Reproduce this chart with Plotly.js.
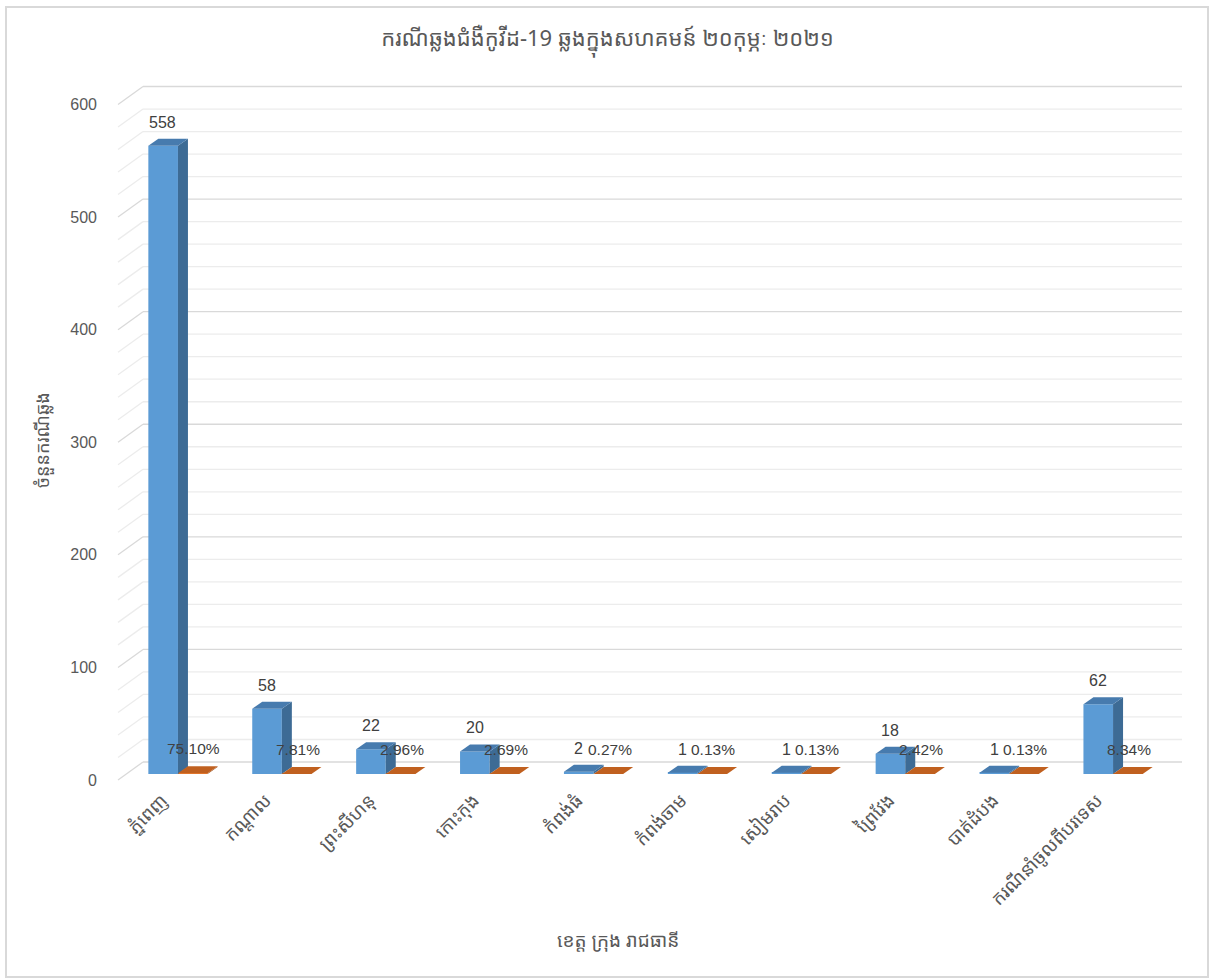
<!DOCTYPE html>
<html>
<head>
<meta charset="utf-8">
<script src="https://cdn.plot.ly/plotly-3.0.1.min.js"></script>
<style>
  html, body { margin: 0; padding: 0; background: #fff; }
  #wrap { position: relative; width: 1215px; height: 978px; }
  #chart { width: 1215px; height: 978px; }
  #frame { position: absolute; left: 5px; top: 6px; width: 1200px; height: 968px;
           border: 2px solid #d9d9d9; pointer-events: none; }
</style>
</head>
<body>
<div id="wrap"><div id="chart"></div><div id="frame"></div></div>
<script>
// Confirmed community cases by province, 20 February 2021
const provinces = ["ភ្នំពេញ", "កណ្ដាល", "ព្រះសីហនុ", "កោះកុង", "កំពង់ធំ",
                   "កំពង់ចាម", "សៀមរាប", "ព្រៃវែង", "បាត់ដំបង", "ករណីនាំចូលពីបរទេស"];
const cases  = [558, 58, 22, 20, 2, 1, 1, 18, 1, 62];
const shares = [0.7510, 0.0781, 0.0296, 0.0269, 0.0027, 0.0013, 0.0013, 0.0242, 0.0013, 0.0834];
const yTicks = [0, 100, 200, 300, 400, 500, 600];

const titleText  = "ករណីឆ្លងជំងឺកូវីដ-19 ឆ្លងក្នុងសហគមន៍ ២០កុម្ភៈ ២០២១";
const xTitleText = "ខេត្ត ក្រុង រាជធានី";
const yTitleText = "ចំនួនករណីឆ្លង";

// ---- geometry of the pseudo-3D box ----
const W = 1215, H = 978;
const M = { l: 126, r: 50, t: 85, b: 195 };
const plotW = W - M.l - M.r, plotH = H - M.t - M.b;
const yRange = [-8, 612];
const kx = plotW / provinces.length;          // px per category
const ky = plotH / (yRange[1] - yRange[0]);   // px per unit
const depthX = 10 / kx, depthY = 7 / ky;      // bar depth offset in data units
const barW = 0.285;
const frontDrop = 6, backRise = 12, wallLeft = -8, wallBack = 17;

const kh = "'Noto Sans Khmer', 'Khmer OS', 'Khmer OS System', 'Noto Sans', 'DejaVu Sans', sans-serif";
const num = "'Liberation Sans', Arial, sans-serif";

const shapes = [];

// back-wall gridlines with the left side-wall diagonals
for (let v = 0; v <= 600; v += 20) {
  const col = (v % 100 === 0) ? "#d9d9d9" : "#ececec";
  const base = { xref: "paper", xsizemode: "pixel", xanchor: 0,
                 yref: "y", ysizemode: "pixel", yanchor: v,
                 layer: "below", line: { color: col, width: 1.3 } };
  shapes.push(Object.assign({ type: "line", x0: wallLeft, x1: wallBack, y0: -frontDrop, y1: backRise }, base));
  shapes.push(Object.assign({ type: "line", x0: wallBack, x1: plotW + wallBack, y0: backRise, y1: backRise }, base));
}

function poly(pts, color) {
  const d = "M" + pts.map(p => p[0] + "," + p[1]).join(" L") + " Z";
  return { type: "path", xref: "x", yref: "y", path: d, fillcolor: color,
           line: { width: 0 }, layer: "above" };
}

cases.forEach((v, i) => {
  // blue column: side and top faces
  shapes.push(poly([[i, 0], [i + depthX, depthY], [i + depthX, v + depthY], [i, v]], "#3d6b95"));
  shapes.push(poly([[i - barW, v], [i, v], [i + depthX, v + depthY], [i - barW + depthX, v + depthY]], "#477bae"));
});
shares.forEach((p, i) => {
  // orange column: side and top faces
  shapes.push(poly([[i + barW, 0], [i + barW + depthX, depthY], [i + barW + depthX, p + depthY], [i + barW, p]], "#9c4d18"));
  shapes.push(poly([[i, p], [i + barW, p], [i + barW + depthX, p + depthY], [i + depthX, p + depthY]], "#c0601f"));
});

const annotations = [];
cases.forEach((v, i) => {
  annotations.push({ x: i, y: v + depthY, xref: "x", yref: "y", text: String(v),
    showarrow: false, xanchor: "center", yanchor: "bottom", xshift: -15, yshift: 6,
    font: { family: num, size: 16, color: "#404040" } });
});
shares.forEach((p, i) => {
  annotations.push({ x: i, y: p + depthY, xref: "x", yref: "y", text: (p * 100).toFixed(2) + "%",
    showarrow: false, xanchor: "center", yanchor: "bottom", xshift: 16, yshift: 7,
    font: { family: num, size: 15.5, color: "#404040" } });
});
annotations.push({ xref: "paper", yref: "paper", x: (618 - M.l) / plotW, y: (H - M.b - 940) / plotH,
  text: xTitleText, showarrow: false, xanchor: "center", yanchor: "middle",
  font: { family: kh, size: 19, color: "#595959" } });
annotations.push({ xref: "paper", yref: "paper", x: (42 - M.l) / plotW, y: (H - M.b - 440) / plotH,
  text: yTitleText, textangle: -90, showarrow: false, xanchor: "center", yanchor: "middle",
  font: { family: kh, size: 18, color: "#595959" } });

const data = [
  { type: "bar", name: "ចំនួនករណី", x: provinces, y: cases, offset: -barW, width: barW,
    marker: { color: "#5b9bd5", line: { width: 0 } }, hoverinfo: "x+y" },
  { type: "bar", name: "ភាគរយ", x: provinces, y: shares, offset: 0, width: barW,
    marker: { color: "#ed7d31", line: { width: 0 } }, hoverinfo: "x+y" },
  { type: "scatter", x: [], y: [], yaxis: "y2", showlegend: false, hoverinfo: "skip" }
];

const layout = {
  width: W, height: H,
  margin: M,
  paper_bgcolor: "#ffffff", plot_bgcolor: "rgba(0,0,0,0)",
  showlegend: false,
  barmode: "overlay",
  title: { text: titleText, x: 0.5, xanchor: "center", y: 1 - 38 / H, yanchor: "middle",
           font: { family: kh, size: 22, color: "#595959" } },
  xaxis: { type: "category", range: [-0.5, provinces.length - 0.5], tickangle: -45,
           showgrid: false, zeroline: false, showline: false, ticks: "",
           ticklabelshift: -16, ticklabelstandoff: 2,
           tickfont: { family: kh, size: 18.5, color: "#595959" } },
  yaxis: { range: yRange, showgrid: false, zeroline: false, showline: false,
           showticklabels: false, ticks: "" },
  yaxis2: { overlaying: "y", side: "left",
            range: [yRange[0] + frontDrop / ky, yRange[1] + frontDrop / ky],
            tickmode: "array", tickvals: yTicks, ticktext: yTicks.map(String),
            showgrid: false, zeroline: false, showline: false, ticks: "",
            ticklabelstandoff: 28,
            tickfont: { family: num, size: 16, color: "#595959" } },
  shapes: shapes,
  annotations: annotations
};

Plotly.newPlot("chart", data, layout, { displayModeBar: false, staticPlot: false });
</script>
</body>
</html>
